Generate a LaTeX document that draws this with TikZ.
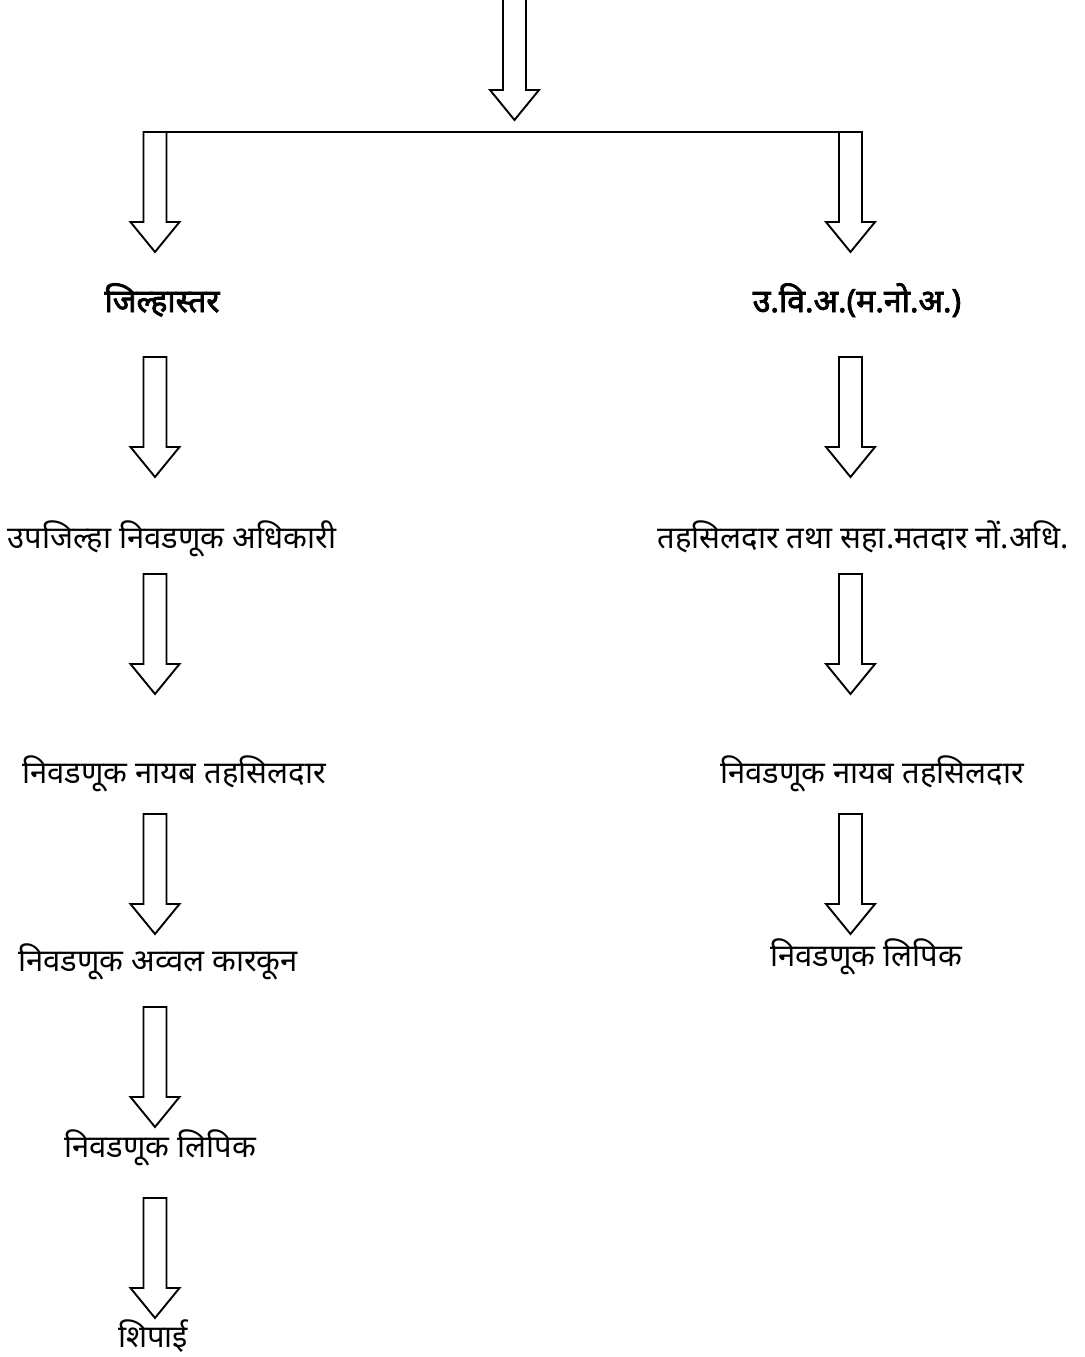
\documentclass[tikz,border=0pt]{standalone}
\usepackage{fontspec}
\newfontfamily\deva[Script=Devanagari]{Noto Sans}
\newfontfamily\devab[Script=Devanagari,FakeBold=2.5]{Noto Sans}
\newcommand\blockarr[4]{%
  \draw[barrow] (#1-11.5,#2) -- (#1+11.5,#2) -- (#1+11.5,#3) -- (#1+24.5,#3)
    -- (#1,#4) -- (#1-24.5,#3) -- (#1-11.5,#3) -- cycle;}
\begin{document}
\begin{tikzpicture}[x=1pt,y=-1pt,
  barrow/.style={draw=black,line width=1.9pt,line join=miter,fill=white},
  lbl/.style={font=\deva\fontsize{31}{36}\selectfont,anchor=base,inner sep=0pt},
  blbl/.style={font=\devab\fontsize{32}{38}\selectfont,anchor=base,inner sep=0pt}]
\useasboundingbox (0,0) rectangle (1084,1357);
\clip (0,0) rectangle (1084,1357);
% top arrow and split
\blockarr{514.5}{-10}{90}{120}
\draw[line width=1.9pt] (143.5,132) -- (861.5,132);
\blockarr{155}{132}{222}{252}
\blockarr{850.5}{132}{222}{252}
% labels
\node[blbl] (zilha) at (162,312) {जिल्हास्तर};
\node[blbl] (uvia) at (857,312) {उ.वि.अ.(म.नो.अ.)};
\node[lbl] (upz) at (172,548) {उपजिल्हा निवडणूक अधिकारी};
\node[lbl] (tah) at (863,548) {तहसिलदार तथा सहा.मतदार नों.अधि.};
\node[lbl] (nnL) at (174,783) {निवडणूक नायब तहसिलदार};
\node[lbl] (nnR) at (872,783) {निवडणूक नायब तहसिलदार};
\node[lbl] (akk) at (158,971) {निवडणूक अव्वल कारकून};
\node[lbl] (lipL) at (160,1157) {निवडणूक लिपिक};
\node[lbl] (lipR) at (866,966) {निवडणूक लिपिक};
\node[lbl] (ship) at (153,1347) {शिपाई};
% arrows
\blockarr{155}{357}{447}{477}
\blockarr{850.5}{357}{447}{477}
\blockarr{155}{574}{664}{694}
\blockarr{850.5}{574}{664}{694}
\blockarr{155}{814}{904}{934}
\blockarr{850.5}{814}{904}{934}
\blockarr{155}{1007}{1097}{1127}
\blockarr{155}{1198}{1288}{1318}
\end{tikzpicture}
\end{document}
